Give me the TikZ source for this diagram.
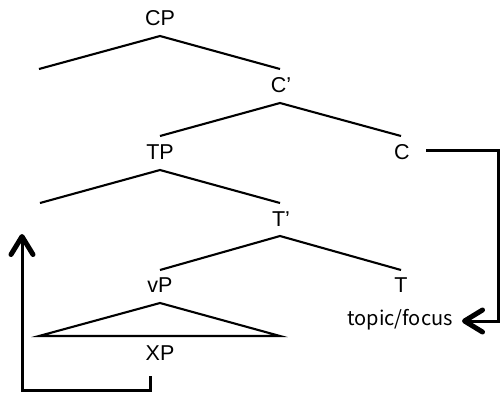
\documentclass[tikz,border=0pt]{standalone}
\usepackage{fontspec}
\setmainfont{Liberation Sans}
\newfontfamily\jpfont{Noto Sans CJK JP}
\usetikzlibrary{arrows.meta}
\begin{document}
\begin{tikzpicture}[x=1pt,y=-1pt,
  lbl/.style={font=\fontsize{21.5}{21.5}\selectfont, inner sep=0pt},
  branch/.style={line width=2.1pt},
  move/.style={line width=3pt, -{Straight Barb[length=18pt,width=22pt,line width=5pt,round]}}]
\useasboundingbox (0,0) rectangle (500,394);
% labels
\node[lbl] (cp) at (160,18) {CP};
\node[lbl] (cbar) at (281,85) {C’};
\node[lbl] (tp) at (160,152) {TP};
\node[lbl] (c) at (402,152) {C};
\node[lbl] (tbar) at (281,219) {T'};
\node[lbl] (vp) at (160,285) {vP};
\node[lbl] (t) at (401,285) {T};
\node[lbl] (xp) at (160,353) {XP};
\node[inner sep=0pt, font=\jpfont\fontsize{20}{20}\selectfont] (tf) at (400,320) {topic/focus};
% apexes and ends
\coordinate (cpA) at (160,36);
\coordinate (cpL) at (39,69);
\coordinate (cpR) at (280,69);
\coordinate (cbA) at (280,103);
\coordinate (cbL) at (160,136);
\coordinate (cbR) at (401,136);
\coordinate (tpA) at (160,170);
\coordinate (tpL) at (40,203);
\coordinate (tpR) at (280,203);
\coordinate (tbA) at (280,236);
\coordinate (tbL) at (160,270);
\coordinate (tbR) at (401,270);
\coordinate (vpA) at (160,303);
\coordinate (vpL) at (39,336);
\coordinate (vpR) at (280,336);
\draw[branch] (cpL) -- (cpA) -- (cpR);
\draw[branch] (cbL) -- (cbA) -- (cbR);
\draw[branch] (tpL) -- (tpA) -- (tpR);
\draw[branch] (tbL) -- (tbA) -- (tbR);
\draw[branch] (vpL) -- (vpA) -- (vpR) -- cycle;
% movement arrows
\coordinate (c0) at (426,150);
\coordinate (c1) at (498.5,150);
\coordinate (c2) at (498.5,321);
\coordinate (tfE) at (462,321);
\draw[move] (c0) -- (c1) -- (c2) -- (tfE);
\coordinate (x0) at (150,376);
\coordinate (x1) at (150,390);
\coordinate (x2) at (22,390);
\coordinate (x3) at (22,234);
\draw[move] (x0) -- (x1) -- (x2) -- (x3);
\end{tikzpicture}
\end{document}
